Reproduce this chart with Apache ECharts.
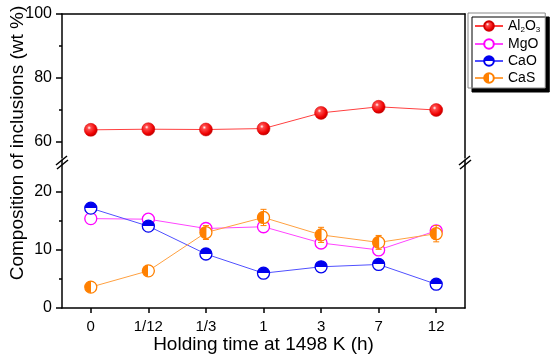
<!DOCTYPE html>
<html><head><meta charset="utf-8">
<script src="https://cdn.jsdelivr.net/npm/echarts@6/dist/echarts.min.js"></script>
<style>html,body{margin:0;padding:0;background:#fff}#c{width:550px;height:358px}</style>
</head><body><div id="c"></div>
<script>
const categories = ['0', '1/12', '1/3', '1', '3', '7', '12'];
const al2o3 = [63.8, 64.0, 63.9, 64.2, 69.1, 71.0, 70.0];
const mgo = [15.4, 15.3, 13.7, 14.0, 11.2, 10.0, 13.3];
const cao = [17.2, 14.1, 9.3, 6.0, 7.1, 7.5, 4.1];
const cas = [3.6, 6.4, 13.0, 15.6, 12.6, 11.3, 12.8];
const casErr = [0, 0, 1.2, 1.4, 1.3, 1.2, 1.4];
const topMajor = [60, 80, 100];
const topMinor = [70, 90];
const botMajor = [0, 10, 20];
const botMinor = [5, 15];

const F = 'Liberation Sans, Arial, sans-serif';
const chart = echarts.init(document.getElementById('c'));
const axLine = {show: true, lineStyle: {color: '#000', width: 1.5}};
const half = (c, dir) => ({
  type: 'linear', x: 0, y: 0, x2: dir === 'h' ? 1 : 0, y2: dir === 'h' ? 0 : 1,
  colorStops: [{offset: 0, color: c}, {offset: 0.5, color: c}, {offset: 0.5, color: '#fff'}, {offset: 1, color: '#fff'}]
});
const errData = categories.map((c, i) => [i, cas[i], casErr[i]]);

chart.setOption({
  animation: false,
  textStyle: {fontFamily: F},
  legend: {
    orient: 'vertical', left: 468, top: 13, padding: [5, 5, 3, 6],
    itemWidth: 28, itemHeight: 12, itemGap: 3,
    backgroundColor: '#fff', borderColor: '#888', borderWidth: 1,
    shadowColor: '#000', shadowOffsetX: 4, shadowOffsetY: 4, shadowBlur: 0,
    formatter: n => n === 'Al2O3' ? 'Al{s|2}O{s|3}' : n,
    textStyle: {fontSize: 14, color: '#000', fontFamily: F, lineHeight: 13, rich: {s: {fontSize: 8, padding: [8, 0, 0, 0], lineHeight: 13, fontFamily: F}}},
    data: ['Al2O3', 'MgO', 'CaO', 'CaS']
  },
  grid: [
    {left: 62, right: 85, top: 14, height: 144},
    {left: 62, right: 85, top: 160, bottom: 50}
  ],
  xAxis: [
    {gridIndex: 0, type: 'category', data: categories, position: 'top', axisLine: axLine, axisTick: {show: false}, axisLabel: {show: false}},
    {gridIndex: 1, type: 'category', data: categories, position: 'bottom', axisLine: axLine,
     axisTick: {show: true, alignWithLabel: true, length: 5, lineStyle: {color: '#000', width: 1.5}},
     axisLabel: {fontSize: 15, color: '#000', margin: 11, fontFamily: F},
     name: 'Holding time at 1498 K (h)', nameLocation: 'middle', nameGap: 26,
     nameTextStyle: {fontSize: 19, color: '#000', fontFamily: F}}
  ],
  yAxis: [
    {gridIndex: 0, type: 'value', min: 55, max: 100, position: 'left', axisLine: axLine, splitLine: {show: false},
     axisTick: {show: true, length: 6, customValues: topMajor, lineStyle: {color: '#000', width: 1.5}},
     axisLabel: {fontSize: 16, color: '#000', margin: 10, customValues: topMajor, fontFamily: F}},
    {gridIndex: 0, type: 'value', min: 55, max: 100, position: 'left', axisLine: {show: false}, splitLine: {show: false},
     axisTick: {show: true, length: 3, customValues: topMinor, lineStyle: {color: '#000', width: 1.5}},
     axisLabel: {show: false}},
    {gridIndex: 0, type: 'value', min: 55, max: 100, position: 'right', axisLine: axLine, splitLine: {show: false},
     axisTick: {show: false}, axisLabel: {show: false}},
    {gridIndex: 1, type: 'value', min: 0, max: 25.5, position: 'left', axisLine: axLine, splitLine: {show: false},
     axisTick: {show: true, length: 6, customValues: botMajor, lineStyle: {color: '#000', width: 1.5}},
     axisLabel: {fontSize: 16, color: '#000', margin: 10, customValues: botMajor, fontFamily: F}},
    {gridIndex: 1, type: 'value', min: 0, max: 25.5, position: 'left', axisLine: {show: false}, splitLine: {show: false},
     axisTick: {show: true, length: 3, customValues: botMinor, lineStyle: {color: '#000', width: 1.5}},
     axisLabel: {show: false}},
    {gridIndex: 1, type: 'value', min: 0, max: 25.5, position: 'right', axisLine: axLine, splitLine: {show: false},
     axisTick: {show: false}, axisLabel: {show: false}}
  ],
  graphic: [
    {type: 'text', rotation: Math.PI / 2, position: [18, 143],
     style: {text: 'Composition of inclusions (wt %)', font: '19px ' + F, fill: '#000', textAlign: 'center', textVerticalAlign: 'middle'}},
    {type: 'polyline', shape: {points: [[56, 165], [67, 156]]}, style: {stroke: '#000', lineWidth: 1.5}},
    {type: 'polyline', shape: {points: [[57, 169], [68, 160]]}, style: {stroke: '#000', lineWidth: 1.5}},
    {type: 'polyline', shape: {points: [[459, 165], [470, 156]]}, style: {stroke: '#000', lineWidth: 1.5}},
    {type: 'polyline', shape: {points: [[460, 169], [471, 160]]}, style: {stroke: '#000', lineWidth: 1.5}}
  ],
  series: [
    {name: 'Al2O3', type: 'line', xAxisIndex: 0, yAxisIndex: 0, data: al2o3, symbol: 'circle', symbolSize: 13,
     lineStyle: {color: '#ff4040', width: 1},
     itemStyle: {color: {type: 'radial', x: 0.38, y: 0.35, r: 0.7, colorStops: [{offset: 0, color: '#ffffff'}, {offset: 0.2, color: '#ff4a4a'}, {offset: 0.7, color: '#ee0000'}, {offset: 1, color: '#b00000'}]}, borderColor: '#d00000', borderWidth: 0.5}},
    {name: 'MgO', type: 'line', xAxisIndex: 1, yAxisIndex: 3, data: mgo, symbol: 'circle', symbolSize: 12,
     lineStyle: {color: '#ff44ff', width: 1},
     itemStyle: {color: '#fff', borderColor: '#ff00ff', borderWidth: 1.3}},
    {name: 'CaO', type: 'line', xAxisIndex: 1, yAxisIndex: 3, data: cao, symbol: 'circle', symbolSize: 12,
     lineStyle: {color: '#5050ff', width: 1},
     itemStyle: {color: half('#0000ee', 'v'), borderColor: '#0000ee', borderWidth: 1.3}},
    {name: 'CaS', type: 'line', xAxisIndex: 1, yAxisIndex: 3, data: cas, symbol: 'circle', symbolSize: 12,
     lineStyle: {color: '#ffa040', width: 1},
     itemStyle: {color: half('#ff8000', 'h'), borderColor: '#ff8000', borderWidth: 1.3}},
    {name: 'CaS err', type: 'custom', xAxisIndex: 1, yAxisIndex: 3, data: errData, z: 5,
     renderItem: (params, api) => {
       const e = api.value(2);
       if (!e) return null;
       const x = api.coord([api.value(0), 0])[0];
       const hi = api.coord([api.value(0), api.value(1) + e])[1];
       const lo = api.coord([api.value(0), api.value(1) - e])[1];
       const st = {stroke: '#ff8000', lineWidth: 1};
       return {type: 'group', children: [
         {type: 'line', shape: {x1: x, y1: hi, x2: x, y2: lo}, style: st},
         {type: 'line', shape: {x1: x - 3, y1: hi, x2: x + 3, y2: hi}, style: st},
         {type: 'line', shape: {x1: x - 3, y1: lo, x2: x + 3, y2: lo}, style: st}
       ]};
     }}
  ]
});
</script></body></html>
